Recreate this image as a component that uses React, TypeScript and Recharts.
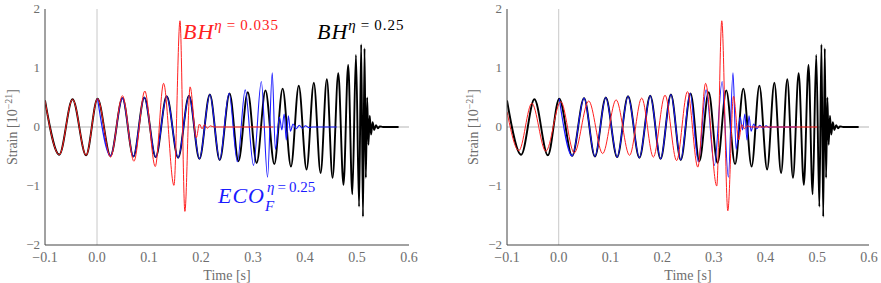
import { LineChart, Line, XAxis, YAxis, ReferenceLine } from "recharts";

type Pt = { t: number; v: number };

// frame ticks
const X_MAJOR = [-0.1, 0, 0.1, 0.2, 0.3, 0.4, 0.5, 0.6];
const X_MINOR = [
  -0.08, -0.06, -0.04, -0.02, 0.02, 0.04, 0.06, 0.08, 0.12, 0.14, 0.16, 0.18,
  0.22, 0.24, 0.26, 0.28, 0.32, 0.34, 0.36, 0.38, 0.42, 0.44, 0.46, 0.48,
  0.52, 0.54, 0.56, 0.58,
];
const Y_MAJOR = [-2, -1, 0, 1, 2];
const Y_MINOR = [
  -1.8, -1.6, -1.4, -1.2, -0.8, -0.6, -0.4, -0.2, 0.2, 0.4, 0.6, 0.8, 1.2,
  1.4, 1.6, 1.8,
];

// BH eta=0.25 (black), extrema
const bhEqual: Pt[] = [
  { t: -0.1, v: 0.45 }, { t: -0.0725, v: -0.47 }, { t: -0.047, v: 0.47 },
  { t: -0.021, v: -0.48 }, { t: 0.001, v: 0.48 }, { t: 0.026, v: -0.49 },
  { t: 0.049, v: 0.49 }, { t: 0.07, v: -0.5 }, { t: 0.091, v: 0.5 },
  { t: 0.113, v: -0.51 }, { t: 0.134, v: 0.52 }, { t: 0.156, v: -0.52 },
  { t: 0.177, v: 0.53 }, { t: 0.197, v: -0.54 }, { t: 0.217, v: 0.55 },
  { t: 0.236, v: -0.56 }, { t: 0.255, v: 0.57 }, { t: 0.272, v: -0.58 },
  { t: 0.29, v: 0.59 }, { t: 0.307, v: -0.61 }, { t: 0.324, v: 0.62 },
  { t: 0.341, v: -0.63 }, { t: 0.357, v: 0.65 }, { t: 0.373, v: -0.67 },
  { t: 0.388, v: 0.7 }, { t: 0.403, v: -0.72 }, { t: 0.417, v: 0.75 },
  { t: 0.43, v: -0.78 }, { t: 0.442, v: 0.81 }, { t: 0.453, v: -0.86 },
  { t: 0.464, v: 0.91 }, { t: 0.474, v: -0.98 }, { t: 0.483, v: 1.05 },
  { t: 0.491, v: -1.14 }, { t: 0.498, v: 1.22 }, { t: 0.504, v: -1.35 },
  { t: 0.508, v: 1.4 }, { t: 0.5115, v: -1.52 }, { t: 0.5145, v: 1.33 },
  { t: 0.517, v: -0.86 }, { t: 0.5195, v: 0.5 }, { t: 0.522, v: -0.3 },
  { t: 0.5245, v: 0.19 }, { t: 0.527, v: -0.13 }, { t: 0.53, v: 0.08 },
  { t: 0.533, v: -0.05 }, { t: 0.5365, v: 0.03 }, { t: 0.54, v: -0.02 },
  { t: 0.544, v: 0.01 }, { t: 0.55, v: 0 }, { t: 0.58, v: 0 },
];

// ECO_F eta=0.25 (blue)
const ecoF: Pt[] = [
  { t: 0.001, v: 0.48 }, { t: 0.026, v: -0.49 }, { t: 0.049, v: 0.49 },
  { t: 0.07, v: -0.5 }, { t: 0.091, v: 0.5 }, { t: 0.113, v: -0.51 },
  { t: 0.134, v: 0.52 }, { t: 0.156, v: -0.52 }, { t: 0.177, v: 0.53 },
  { t: 0.197, v: -0.54 }, { t: 0.217, v: 0.55 }, { t: 0.236, v: -0.56 },
  { t: 0.254, v: 0.57 }, { t: 0.27, v: -0.59 }, { t: 0.285, v: 0.63 },
  { t: 0.301, v: -0.65 }, { t: 0.316, v: 0.77 }, { t: 0.328, v: -0.85 },
  { t: 0.337, v: 0.92 }, { t: 0.343, v: -0.38 }, { t: 0.351, v: 0.17 },
  { t: 0.3555, v: -0.05 }, { t: 0.36, v: 0.22 }, { t: 0.364, v: -0.22 },
  { t: 0.368, v: 0.19 }, { t: 0.372, v: -0.07 }, { t: 0.377, v: 0.05 },
  { t: 0.383, v: -0.03 }, { t: 0.389, v: 0.03 }, { t: 0.395, v: -0.02 },
  { t: 0.401, v: 0.02 }, { t: 0.407, v: -0.01 }, { t: 0.415, v: 0 },
  { t: 0.461, v: 0 },
];

// BH eta=0.035 (red), left panel: phase-matched at start
const bhLightLeft: Pt[] = [
  { t: -0.1, v: 0.45 }, { t: -0.0725, v: -0.47 }, { t: -0.047, v: 0.47 },
  { t: -0.021, v: -0.48 }, { t: 0.001, v: 0.48 }, { t: 0.026, v: -0.51 },
  { t: 0.049, v: 0.53 }, { t: 0.071, v: -0.58 }, { t: 0.092, v: 0.61 },
  { t: 0.112, v: -0.67 }, { t: 0.128, v: 0.74 }, { t: 0.148, v: -0.99 },
  { t: 0.1596, v: 1.8 }, { t: 0.169, v: -1.43 }, { t: 0.179, v: 0.68 },
  { t: 0.191, v: -0.18 }, { t: 0.197, v: 0.05 }, { t: 0.202, v: -0.03 },
  { t: 0.207, v: 0.04 }, { t: 0.212, v: -0.02 }, { t: 0.218, v: 0.02 },
  { t: 0.225, v: 0 }, { t: 0.339, v: 0 },
];

// BH eta=0.035 (red), right panel: shifted merger
const bhLightRight: Pt[] = [
  { t: -0.1, v: 0.26 }, { t: -0.077, v: -0.4 }, { t: -0.052, v: 0.4 },
  { t: -0.025, v: -0.41 }, { t: 0.004, v: 0.43 }, { t: 0.03, v: -0.44 },
  { t: 0.058, v: 0.44 }, { t: 0.085, v: -0.45 }, { t: 0.111, v: 0.46 },
  { t: 0.137, v: -0.48 }, { t: 0.1605, v: 0.49 }, { t: 0.183, v: -0.51 },
  { t: 0.2056, v: 0.54 }, { t: 0.228, v: -0.57 }, { t: 0.249, v: 0.6 },
  { t: 0.269, v: -0.68 }, { t: 0.284, v: 0.74 }, { t: 0.3056, v: -1.0 },
  { t: 0.3153, v: 1.8 }, { t: 0.327, v: -1.42 }, { t: 0.338, v: 0.52 },
  { t: 0.348, v: -0.22 }, { t: 0.354, v: 0.04 }, { t: 0.359, v: -0.03 },
  { t: 0.365, v: 0.02 }, { t: 0.372, v: 0 }, { t: 0.5, v: 0 },
];

const FONT = "Liberation Serif";
const GREY_TEXT = "#6e6e6e";
const FRAME = "#444";
const DOMAIN_X: [number, number] = [-0.1, 0.6];
const DOMAIN_Y: [number, number] = [-2, 2];

const fmtX = (v: number) => (v < 0 ? "\u2212" : "") + Math.abs(v).toFixed(1);
const fmtY = (v: number) => (v < 0 ? "\u2212" + Math.abs(v) : String(v));

function Panel({ red, width, left, right }: { red: Pt[]; width: number; left: number; right: number }) {
  const xFont = { fill: GREY_TEXT, fontSize: 14, fontFamily: FONT };
  const yFont = { fill: GREY_TEXT, fontSize: 13, fontFamily: FONT, dy: -1 };
  const common = { type: "number" as const, domain: DOMAIN_X, allowDataOverflow: true };
  const commonY = { type: "number" as const, domain: DOMAIN_Y, allowDataOverflow: true };
  return (
    <LineChart width={width} height={283} margin={{ top: 9, bottom: 8, left, right }} style={{ fontFamily: FONT }}>
      {/* inward ticks on all four sides */}
      <XAxis xAxisId="bmin" {...common} orientation="bottom" mirror height={0} ticks={X_MINOR} interval={0} tick={false} tickSize={3} tickLine={{ stroke: FRAME }} axisLine={false} />
      <XAxis xAxisId="bmaj" {...common} orientation="bottom" mirror height={0} ticks={X_MAJOR} interval={0} tick={false} tickSize={6} tickLine={{ stroke: FRAME }} axisLine={false} />
      <XAxis xAxisId="tmin" {...common} orientation="top" mirror height={0} ticks={X_MINOR} interval={0} tick={false} tickSize={3} tickLine={{ stroke: FRAME }} axisLine={false} />
      <XAxis xAxisId="tmaj" {...common} orientation="top" mirror height={0} ticks={X_MAJOR} interval={0} tick={false} tickSize={6} tickLine={{ stroke: FRAME }} axisLine={{ stroke: FRAME }} />
      <YAxis yAxisId="lmin" {...commonY} orientation="left" mirror width={0} ticks={Y_MINOR} interval={0} tick={false} tickSize={3} tickLine={{ stroke: FRAME }} axisLine={false} />
      <YAxis yAxisId="lmaj" {...commonY} orientation="left" mirror width={0} ticks={Y_MAJOR} interval={0} tick={false} tickSize={6} tickLine={{ stroke: FRAME }} axisLine={false} />
      <YAxis yAxisId="rmin" {...commonY} orientation="right" mirror width={0} ticks={Y_MINOR} interval={0} tick={false} tickSize={3} tickLine={{ stroke: "#888" }} axisLine={false} />
      <YAxis yAxisId="rmaj" {...commonY} orientation="right" mirror width={0} ticks={Y_MAJOR} interval={0} tick={false} tickSize={6} tickLine={{ stroke: "#888" }} axisLine={{ stroke: "#888" }} />

      <XAxis xAxisId="x" dataKey="t" {...common} ticks={X_MAJOR} interval={0} tickFormatter={fmtX} tick={xFont} tickLine={false} tickSize={0} tickMargin={7} height={30} axisLine={{ stroke: FRAME }} />
      <YAxis yAxisId="y" {...commonY} ticks={Y_MAJOR} interval={0} tickFormatter={fmtY} tick={yFont} tickLine={false} tickSize={0} tickMargin={5} width={40} axisLine={{ stroke: FRAME }} />

      <ReferenceLine xAxisId="x" yAxisId="y" y={0} stroke="#b5b5b5" strokeWidth={1} />
      <ReferenceLine xAxisId="x" yAxisId="y" x={0} stroke="#c8c8c8" strokeWidth={1} />

      <Line xAxisId="x" yAxisId="y" data={bhEqual} dataKey="v" type="monotone" stroke="#000" strokeWidth={1.9} dot={false} isAnimationActive={false} />
      <Line xAxisId="x" yAxisId="y" data={ecoF} dataKey="v" type="monotone" stroke="#1a1aff" strokeWidth={1.1} dot={false} isAnimationActive={false} />
      <Line xAxisId="x" yAxisId="y" data={red} dataKey="v" type="monotone" stroke="#ff2020" strokeWidth={1} dot={false} isAnimationActive={false} />
    </LineChart>
  );
}

function AxisTitles({ cx, ty }: { cx: number; ty: number }) {
  return (
    <g fill={GREY_TEXT} fontFamily={FONT} fontSize={14}>
      <text x={cx} y={280} textAnchor="middle">Time [s]</text>
      <text transform={`translate(${ty},127) rotate(-90)`} textAnchor="middle">
        Strain [10<tspan dy={-5} fontSize={10}>{"\u221221"}</tspan><tspan dy={5}>]</tspan>
      </text>
    </g>
  );
}

export default function App() {
  return (
    <div style={{ position: "absolute", left: 0, top: 0, width: 881, height: 283, background: "#fff", fontFamily: FONT }}>
      <div style={{ position: "absolute", left: 0, top: 0 }}>
        <Panel red={bhLightLeft} width={440} left={5} right={31} />
      </div>
      <div style={{ position: "absolute", left: 440, top: 0 }}>
        <Panel red={bhLightRight} width={441} left={27} right={12} />
      </div>
      <svg width={881} height={283} style={{ position: "absolute", left: 0, top: 0, pointerEvents: "none" }}>
        <AxisTitles cx={227} ty={17} />
        <AxisTitles cx={688} ty={478} />
        <g fontFamily={FONT}>
          <text x={183} y={39} fill="#ff2020" fontSize={22} fontStyle="italic" letterSpacing={1}>
            BH<tspan dy={-9} fontSize={15}>η</tspan><tspan fontSize={15} fontStyle="normal">{"\u2009=\u20090.035"}</tspan>
          </text>
          <text x={317} y={39} fill="#000" fontSize={22} fontStyle="italic" letterSpacing={1}>
            BH<tspan dy={-9} fontSize={15}>η</tspan><tspan fontSize={15} fontStyle="normal">{"\u2009=\u20090.25"}</tspan>
          </text>
          <text x={218} y={203} fill="#1a1aff" fontSize={22} fontStyle="italic" letterSpacing={1}>ECO</text>
          <text x={265} y={211} fill="#1a1aff" fontSize={15} fontStyle="italic">F</text>
          <text x={267} y={192} fill="#1a1aff" fontSize={15}>
            <tspan fontStyle="italic">η</tspan>{"\u2009=\u20090.25"}
          </text>
        </g>
      </svg>
    </div>
  );
}
